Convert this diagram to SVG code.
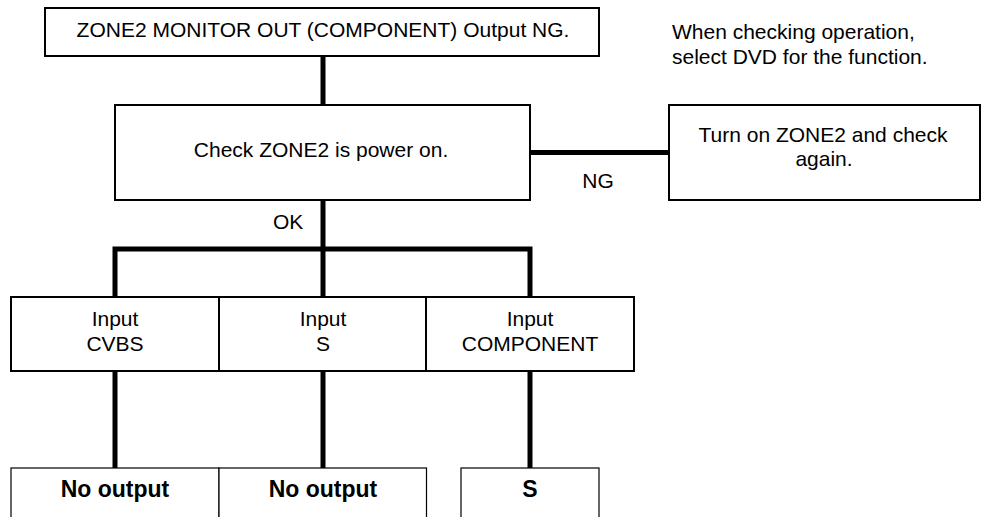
<svg xmlns="http://www.w3.org/2000/svg" width="982" height="517" viewBox="0 0 982 517">
<style>
text{font-family:"Liberation Sans",Arial,sans-serif;font-size:21px;fill:#000}
.c{text-anchor:middle}
.b{font-weight:bold;font-size:23px}
.box{fill:#fff;stroke:#000;stroke-width:2}
.thin{fill:#fff;stroke:#000;stroke-width:1.2}
.con{fill:none;stroke:#000;stroke-width:5;stroke-linejoin:miter;stroke-linecap:butt}
</style>
<rect width="982" height="517" fill="#fff"/>
<g id="connectors">
<path class="con" d="M323,56V105"/>
<path class="con" d="M530,152.5H669"/>
<path class="con" d="M323,200V297"/>
<path class="con" d="M115,297V249H530V297"/>
<path class="con" d="M115,371V468"/>
<path class="con" d="M323,371V468"/>
<path class="con" d="M530,371V468"/>
</g>
<g id="start">
<rect class="box" x="45" y="8" width="554" height="48"/>
<text class="c" x="323" y="37">ZONE2 MONITOR OUT (COMPONENT) Output NG.</text>
</g>
<g id="note">
<text x="672" y="39">When checking operation,</text>
<text x="672" y="64">select DVD for the function.</text>
</g>
<g id="check">
<rect class="box" x="115" y="105" width="415" height="95"/>
<text class="c" x="321" y="157">Check ZONE2 is power on.</text>
</g>
<g id="turnon">
<rect class="box" x="669" y="105" width="311" height="95"/>
<text class="c" x="823" y="141.5">Turn on ZONE2 and check</text>
<text class="c" x="824" y="166">again.</text>
</g>
<g id="labels">
<text class="c" x="598" y="188">NG</text>
<text x="273" y="229">OK</text>
</g>
<g id="in-cvbs">
<rect class="box" x="11" y="297" width="208" height="74"/>
<text class="c" x="115" y="325.5">Input</text>
<text class="c" x="115" y="351">CVBS</text>
</g>
<g id="in-s">
<rect class="box" x="219" y="297" width="207" height="74"/>
<text class="c" x="323" y="325.5">Input</text>
<text class="c" x="323" y="351">S</text>
</g>
<g id="in-comp">
<rect class="box" x="426" y="297" width="208" height="74"/>
<text class="c" x="530" y="325.5">Input</text>
<text class="c" x="530" y="351">COMPONENT</text>
</g>
<g id="out-cvbs">
<rect class="thin" x="11" y="468" width="208" height="70"/>
<text class="c b" x="115" y="496.5">No output</text>
</g>
<g id="out-s">
<rect class="thin" x="219" y="468" width="207.5" height="70"/>
<text class="c b" x="323" y="496.5">No output</text>
</g>
<g id="out-comp">
<rect class="thin" x="461" y="468" width="138" height="70"/>
<text class="c b" x="530" y="496.5">S</text>
</g>
</svg>
